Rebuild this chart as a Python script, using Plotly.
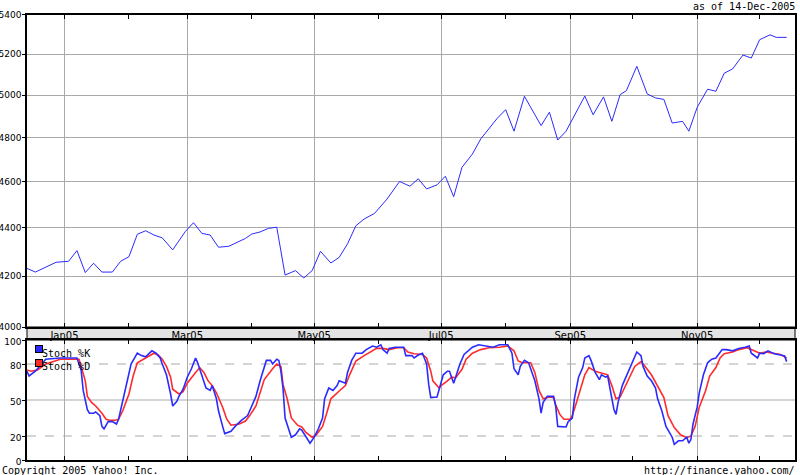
import plotly.graph_objects as go

# weekly-ish closing values, upper panel (log scale)
price_dates = [
    '2004-12-14', '2004-12-18', '2004-12-28', '2005-01-03', '2005-01-07', '2005-01-11',
    '2005-01-15', '2005-01-19', '2005-01-24', '2005-01-28', '2005-02-01', '2005-02-05',
    '2005-02-09', '2005-02-13', '2005-02-17', '2005-02-22', '2005-02-28', '2005-03-04',
    '2005-03-08', '2005-03-12', '2005-03-16', '2005-03-21', '2005-03-29', '2005-04-01',
    '2005-04-05', '2005-04-09', '2005-04-13', '2005-04-17', '2005-04-22', '2005-04-26',
    '2005-04-30', '2005-05-04', '2005-05-09', '2005-05-13', '2005-05-17', '2005-05-21',
    '2005-05-25', '2005-05-30', '2005-06-05', '2005-06-11', '2005-06-16', '2005-06-20',
    '2005-06-24', '2005-06-29', '2005-07-03', '2005-07-07', '2005-07-11', '2005-07-16',
    '2005-07-20', '2005-07-24', '2005-07-28', '2005-08-01', '2005-08-05', '2005-08-10',
    '2005-08-14', '2005-08-18', '2005-08-22', '2005-08-26', '2005-08-30', '2005-09-08',
    '2005-09-12', '2005-09-17', '2005-09-21', '2005-09-25', '2005-09-28', '2005-10-03',
    '2005-10-08', '2005-10-12', '2005-10-16', '2005-10-20', '2005-10-25', '2005-10-28',
    '2005-11-01', '2005-11-06', '2005-11-10', '2005-11-14', '2005-11-18', '2005-11-23',
    '2005-11-27', '2005-12-01', '2005-12-06', '2005-12-09', '2005-12-14']
price_close = [
    4232, 4217, 4257, 4261, 4305, 4215,
    4253, 4217, 4217, 4261, 4280, 4373,
    4388, 4370, 4358, 4308, 4384, 4422,
    4377, 4370, 4319, 4323, 4356, 4374,
    4383, 4398, 4403, 4205, 4223, 4193,
    4223, 4302, 4254, 4277, 4333, 4409,
    4438, 4462, 4524, 4601, 4580, 4613,
    4568, 4586, 4624, 4534, 4664, 4724,
    4793, 4843, 4890, 4930, 4829, 4994,
    4925, 4855, 4918, 4788, 4829, 4995,
    4906, 4991, 4875, 5002, 5021, 5140,
    5005, 4986, 4979, 4867, 4875, 4829,
    4941, 5028, 5018, 5106, 5127, 5196,
    5181, 5273, 5298, 5285, 5285]

k_dates = [
    '2004-12-14', '2004-12-15', '2004-12-18', '2004-12-19', '2004-12-23', '2004-12-30',
    '2005-01-07', '2005-01-09', '2005-01-10', '2005-01-12', '2005-01-13', '2005-01-15',
    '2005-01-16', '2005-01-18', '2005-01-19', '2005-01-20', '2005-01-22', '2005-01-24',
    '2005-01-26', '2005-01-27', '2005-01-29', '2005-01-31', '2005-02-02', '2005-02-05',
    '2005-02-07', '2005-02-09', '2005-02-12', '2005-02-14', '2005-02-16', '2005-02-17',
    '2005-02-19', '2005-02-21', '2005-02-22', '2005-02-24', '2005-02-25', '2005-02-27',
    '2005-03-01', '2005-03-03', '2005-03-05', '2005-03-06', '2005-03-08', '2005-03-10',
    '2005-03-12', '2005-03-13', '2005-03-15', '2005-03-16', '2005-03-18', '2005-03-19',
    '2005-03-22', '2005-03-24', '2005-03-27', '2005-03-30', '2005-04-01', '2005-04-03',
    '2005-04-05', '2005-04-07', '2005-04-08', '2005-04-10', '2005-04-11', '2005-04-13',
    '2005-04-14', '2005-04-15', '2005-04-16', '2005-04-17', '2005-04-19', '2005-04-20',
    '2005-04-22', '2005-04-24', '2005-04-25', '2005-04-27', '2005-04-29', '2005-05-01',
    '2005-05-03', '2005-05-05', '2005-05-06', '2005-05-08', '2005-05-10', '2005-05-12',
    '2005-05-13', '2005-05-16', '2005-05-17', '2005-05-19', '2005-05-21', '2005-05-24',
    '2005-05-26', '2005-05-29', '2005-05-31', '2005-06-02', '2005-06-03', '2005-06-05',
    '2005-06-06', '2005-06-09', '2005-06-13', '2005-06-14', '2005-06-17', '2005-06-18',
    '2005-06-20', '2005-06-22', '2005-06-24', '2005-06-25', '2005-06-26', '2005-06-29',
    '2005-06-30', '2005-07-02', '2005-07-04', '2005-07-05', '2005-07-07', '2005-07-08',
    '2005-07-10', '2005-07-12', '2005-07-14', '2005-07-16', '2005-07-19', '2005-07-22',
    '2005-07-26', '2005-07-29', '2005-08-02', '2005-08-04', '2005-08-05', '2005-08-07',
    '2005-08-08', '2005-08-10', '2005-08-12', '2005-08-13', '2005-08-15', '2005-08-17',
    '2005-08-18', '2005-08-19', '2005-08-21', '2005-08-24', '2005-08-25', '2005-08-26',
    '2005-08-28', '2005-08-30', '2005-08-31', '2005-09-02', '2005-09-03', '2005-09-05',
    '2005-09-07', '2005-09-08', '2005-09-10', '2005-09-11', '2005-09-13', '2005-09-15',
    '2005-09-16', '2005-09-18', '2005-09-19', '2005-09-21', '2005-09-22', '2005-09-23',
    '2005-09-24', '2005-09-26', '2005-09-28', '2005-09-30', '2005-10-02', '2005-10-03',
    '2005-10-05', '2005-10-06', '2005-10-08', '2005-10-10', '2005-10-12', '2005-10-13',
    '2005-10-15', '2005-10-17', '2005-10-20', '2005-10-21', '2005-10-23', '2005-10-25',
    '2005-10-27', '2005-10-28', '2005-10-29', '2005-10-30', '2005-11-01', '2005-11-02',
    '2005-11-04', '2005-11-06', '2005-11-08', '2005-11-10', '2005-11-13', '2005-11-15',
    '2005-11-18', '2005-11-21', '2005-11-24', '2005-11-26', '2005-11-27', '2005-11-30',
    '2005-12-01', '2005-12-03', '2005-12-05', '2005-12-08', '2005-12-11', '2005-12-13',
    '2005-12-14']
k_values = [
    74, 70, 74, 76, 84, 85,
    85, 75, 58, 42, 39, 39,
    40, 37, 28, 26, 32, 32,
    30, 34, 49, 66, 80, 89,
    87, 86, 91, 89, 85, 80,
    71, 55, 45, 49, 53, 59,
    69, 76, 85, 81, 71, 60,
    58, 62, 51, 41, 28, 22,
    24, 28, 33, 37, 45, 53,
    66, 77, 83, 83, 80, 84,
    83, 74, 60, 35, 24, 19,
    21, 26, 25, 19, 14, 19,
    26, 35, 51, 60, 58, 62,
    66, 64, 73, 83, 89, 89,
    92, 95, 94, 96, 92, 89,
    93, 94, 94, 87, 87, 85,
    87.5, 89, 80, 63, 52, 52.5,
    59, 71, 74, 74, 64, 70,
    80, 88, 91, 94, 96, 95,
    94, 96, 96, 89, 76, 71,
    78, 83, 81, 76, 66, 51,
    39, 48, 53, 53, 45, 28,
    28, 27.5, 32, 35, 51, 69,
    77, 85, 87, 83, 73, 67,
    71, 69, 70, 53, 42, 38,
    48, 62, 70, 78, 87, 90,
    87, 78, 70, 66, 60, 51,
    41, 28, 19, 13, 16, 16,
    19, 14, 17, 30, 44, 56,
    71, 81, 84, 85, 92, 92,
    91, 93, 94, 95, 89, 85,
    89, 88.6, 91, 88.6, 87.5, 86.7,
    82]

d_dates = [
    '2004-12-14', '2004-12-16', '2004-12-19', '2004-12-23', '2004-12-30', '2005-01-08',
    '2005-01-09', '2005-01-11', '2005-01-12', '2005-01-14', '2005-01-16', '2005-01-19',
    '2005-01-21', '2005-01-23', '2005-01-25', '2005-01-27', '2005-01-29', '2005-02-01',
    '2005-02-03', '2005-02-05', '2005-02-09', '2005-02-13', '2005-02-15', '2005-02-17',
    '2005-02-19', '2005-02-21', '2005-02-22', '2005-02-25', '2005-02-27', '2005-03-01',
    '2005-03-05', '2005-03-07', '2005-03-09', '2005-03-11', '2005-03-13', '2005-03-15',
    '2005-03-18', '2005-03-20', '2005-03-22', '2005-03-26', '2005-03-29', '2005-03-31',
    '2005-04-03', '2005-04-05', '2005-04-07', '2005-04-11', '2005-04-13', '2005-04-15',
    '2005-04-16', '2005-04-18', '2005-04-20', '2005-04-23', '2005-04-25', '2005-04-27',
    '2005-04-30', '2005-05-02', '2005-05-05', '2005-05-07', '2005-05-09', '2005-05-13',
    '2005-05-16', '2005-05-18', '2005-05-21', '2005-05-25', '2005-05-28', '2005-05-31',
    '2005-06-03', '2005-06-06', '2005-06-10', '2005-06-13', '2005-06-15', '2005-06-18',
    '2005-06-22', '2005-06-24', '2005-06-26', '2005-06-27', '2005-06-30', '2005-07-01',
    '2005-07-04', '2005-07-06', '2005-07-08', '2005-07-11', '2005-07-13', '2005-07-16',
    '2005-07-20', '2005-07-24', '2005-07-29', '2005-08-02', '2005-08-05', '2005-08-07',
    '2005-08-09', '2005-08-13', '2005-08-15', '2005-08-17', '2005-08-19', '2005-08-22',
    '2005-08-24', '2005-08-25', '2005-08-27', '2005-08-29', '2005-09-01', '2005-09-02',
    '2005-09-04', '2005-09-06', '2005-09-08', '2005-09-10', '2005-09-13', '2005-09-15',
    '2005-09-19', '2005-09-21', '2005-09-23', '2005-09-25', '2005-09-27', '2005-09-30',
    '2005-10-02', '2005-10-05', '2005-10-07', '2005-10-10', '2005-10-13', '2005-10-16',
    '2005-10-18', '2005-10-21', '2005-10-24', '2005-10-27', '2005-10-29', '2005-10-31',
    '2005-11-02', '2005-11-05', '2005-11-07', '2005-11-10', '2005-11-12', '2005-11-14',
    '2005-11-18', '2005-11-21', '2005-11-25', '2005-11-28', '2005-12-01', '2005-12-04',
    '2005-12-08', '2005-12-11', '2005-12-14']
d_values = [
    75, 74, 75, 80, 84, 84,
    78, 66, 53, 48, 45, 39,
    34, 33, 33, 34, 41, 55,
    70, 81, 85, 89, 87.5, 84,
    78, 69, 59, 55, 57, 64,
    73, 77, 73, 66, 62, 56,
    44, 34, 29, 30, 32.5, 37,
    45, 56, 67, 76, 80, 78,
    63, 51, 35, 29, 27.5, 23,
    19, 21, 28, 39, 51, 57.5,
    62, 71, 82.5, 87, 90, 93,
    93, 92, 93.6, 93.6, 90, 88.6,
    88, 85, 74, 66, 60, 62,
    66, 69, 68.6, 75.6, 84, 89,
    92, 93.6, 94, 95, 91, 82.5,
    81, 81, 73, 58, 51, 52.5,
    52, 46, 38, 34, 34, 37,
    48, 60, 71, 77, 74, 73,
    71, 62, 51, 52.5, 60, 70,
    78, 82, 78, 71, 62, 52,
    37, 27, 21, 18.6, 20, 28,
    44, 57.5, 70, 77, 85, 88.6,
    90, 92, 93.6, 91, 89, 90,
    89, 88, 85]

price_ticks = [4000, 4200, 4400, 4600, 4800, 5000, 5200, 5400]
stoch_ticks = [0, 20, 50, 80, 100]
stoch_solid = [50]
stoch_dashed = [20, 80]

grid = '#aaaaaa'
blue = '#2b2bff'
red = '#ff2b2b'
tick_font = dict(family='DejaVu Sans', size=10, color='black')
ytick_font = dict(family='DejaVu Sans', size=9, color='black')
mono = dict(family='DejaVu Sans Mono', size=10, color='black')

fig = go.Figure()
fig.add_scatter(x=price_dates, y=price_close, mode='lines',
                line=dict(color=blue, width=1), xaxis='x', yaxis='y', showlegend=False)
fig.add_scatter(x=d_dates, y=d_values, mode='lines',
                line=dict(color=red, width=1.6), xaxis='x2', yaxis='y2', showlegend=False)
fig.add_scatter(x=k_dates, y=k_values, mode='lines',
                line=dict(color=blue, width=1.6), xaxis='x2', yaxis='y2', showlegend=False)

x_range = ['2004-12-14', '2005-12-18']
xcommon = dict(type='date', range=x_range, dtick='M2', tick0='2005-01-01',
               showgrid=True, gridcolor=grid, gridwidth=1, automargin=False,
               showline=True, linecolor='black', linewidth=1.5, mirror='allticks',
               ticks='inside', ticklen=4, tickcolor='black',
               minor=dict(dtick='M1', tick0='2005-01-01', ticks='inside', ticklen=4,
                          tickcolor='black', showgrid=False),
               zeroline=False)

band_bottom = 120 / 445
band_top = 133 / 445

fig.update_layout(
    width=800, height=475,
    margin=dict(l=27, r=5, t=15, b=15, autoexpand=False),
    paper_bgcolor='white', plot_bgcolor='white',
    showlegend=False,
    xaxis=dict(xcommon, anchor='y', tickformat='%b%y', tickfont=tick_font,
               ticklabelstandoff=-2),
    yaxis=dict(type='log', domain=[band_top, 1], automargin=False,
               range=[3.60206, 3.73239], tickvals=price_ticks,
               ticktext=[str(v) for v in price_ticks], tickfont=ytick_font,
               showgrid=True, gridcolor=grid, gridwidth=1,
               showline=True, linecolor='black', linewidth=1.5, mirror=True,
               ticks='outside', ticklen=3, tickcolor='black', zeroline=False,
               ticklabelstandoff=-1),
    xaxis2=dict(xcommon, anchor='y2', matches='x', showticklabels=False),
    yaxis2=dict(domain=[0, band_bottom], range=[0, 100], tickvals=stoch_ticks,
                tickfont=ytick_font, showgrid=False, automargin=False,
                showline=True, linecolor='black', linewidth=1.5, mirror=True,
                ticks='outside', ticklen=3, tickcolor='black', zeroline=False,
                ticklabelstandoff=-1, ticklabelshift=2),
)

# grey date band between the panels
fig.add_shape(type='rect', xref='paper', yref='paper', x0=0, x1=1,
              y0=band_bottom, y1=band_top, fillcolor='#e3e3e3',
              line=dict(color='black', width=1), layer='below')

for lvl in stoch_solid:
    fig.add_shape(type='line', xref='x2 domain', yref='y2', x0=0, x1=1, y0=lvl, y1=lvl,
                  line=dict(color=grid, width=1), layer='below')
for lvl in stoch_dashed:
    fig.add_shape(type='line', xref='x2 domain', yref='y2', x0=0, x1=1, y0=lvl, y1=lvl,
                  line=dict(color=grid, width=1, dash='dash'), layer='below')

# legend boxes
legend_items = [('Stoch %K', blue, 0.240), ('Stoch %D', red, 0.209)]
for name, col, ly in legend_items:
    fig.add_annotation(xref='paper', yref='paper', x=0.0098, y=ly, text=' ',
                       showarrow=False, width=6, height=6, bgcolor=col,
                       bordercolor='black', borderwidth=1, borderpad=0,
                       font=dict(size=4))
    fig.add_annotation(xref='paper', yref='paper', x=0.0175, y=ly, text=name,
                       showarrow=False, xanchor='left', yanchor='middle', font=mono)

fig.add_annotation(xref='paper', yref='paper', x=1.0026, y=1.018, text='as of 14-Dec-2005',
                   showarrow=False, xanchor='right', yanchor='middle', font=mono)
fig.add_annotation(xref='paper', yref='paper', x=-0.0352, y=-0.023,
                   text='Copyright 2005 Yahoo! Inc.',
                   showarrow=False, xanchor='left', yanchor='middle', font=mono)
fig.add_annotation(xref='paper', yref='paper', x=1.0026, y=-0.023,
                   text='http://finance.yahoo.com/',
                   showarrow=False, xanchor='right', yanchor='middle', font=mono)

# the page body has a default 8px margin; drop it so the chart sits at 0,0
fig.write_html('out.html', config={'displayModeBar': False},
               post_script="document.body.style.margin='0';")
